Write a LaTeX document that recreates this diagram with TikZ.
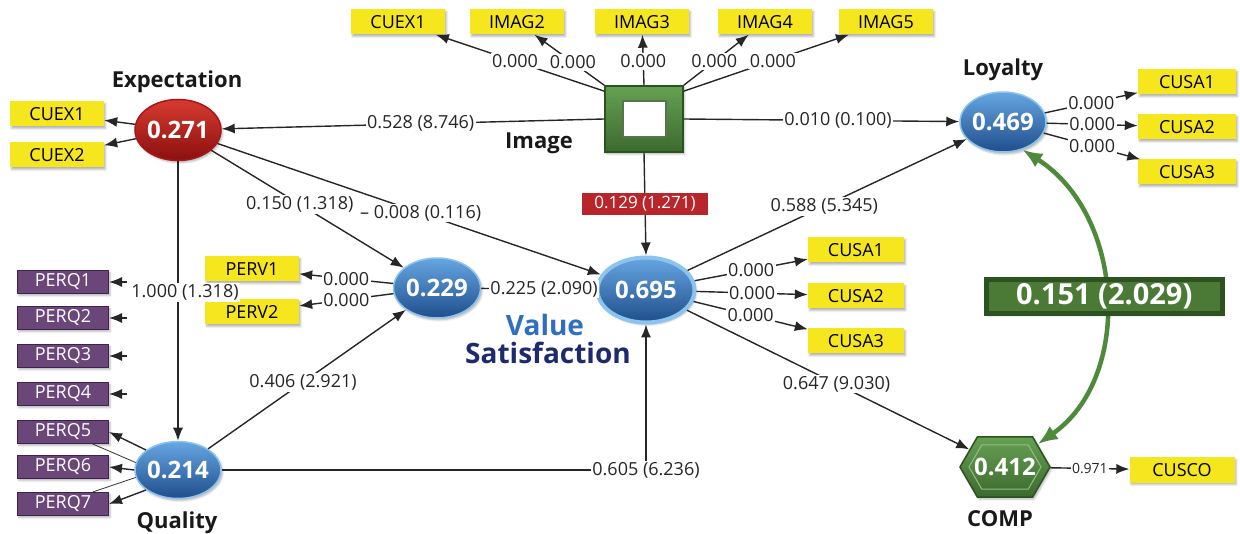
\documentclass[tikz,border=0pt]{standalone}
\usepackage{fontspec}
\setmainfont{Open Sans}
\usetikzlibrary{arrows.meta,shapes.geometric,shapes.symbols,shadows.blur}

\definecolor{ylw}{HTML}{F6E61E}
\definecolor{prp}{HTML}{6A4778}
\definecolor{prpdark}{HTML}{3D2450}
\definecolor{bTop}{HTML}{66A6E2}
\definecolor{bBot}{HTML}{1F4E8C}
\definecolor{bRim}{HTML}{8CC4F0}
\definecolor{rTop}{HTML}{D83A2F}
\definecolor{rBot}{HTML}{8A1010}
\definecolor{rRim}{HTML}{A51818}
\definecolor{gTop}{HTML}{66A052}
\definecolor{gBot}{HTML}{3C6A2F}
\definecolor{gDark}{HTML}{2C5222}
\definecolor{gArr}{HTML}{4F8A3C}
\definecolor{gLab}{HTML}{4B7A37}
\definecolor{redLab}{HTML}{B8252A}
\definecolor{valBlue}{HTML}{2F6FBF}
\definecolor{satNavy}{HTML}{1E2A6E}

\begin{document}
\begin{tikzpicture}[x=1pt,y=-1pt,
  shd/.style={blur shadow={shadow xshift=1.5pt,shadow yshift=-2pt,shadow blur radius=2pt,shadow opacity=30}},
  arr/.style={-{Latex[length=13pt,width=10pt]},line width=1.4pt,black!85},
  elab/.style={fill=white,inner sep=1.5pt,text=black!85,font=\fontsize{18}{20}\selectfont},
  selab/.style={elab,font=\fontsize{14}{16}\selectfont},
  ybox/.style={rectangle,fill=ylw,minimum width=94,minimum height=25,inner sep=0,
    font=\fontsize{18}{20}\selectfont,shd},
  pbox/.style={rectangle,fill=prp,draw=prpdark,line width=1pt,text=white,minimum width=91,
    minimum height=23,inner sep=0,font=\fontsize{18}{20}\selectfont,shd},
  ttl/.style={font=\bfseries\fontsize{22}{24}\selectfont,text=black!90},
  lv/.style={ellipse,inner sep=0,text=white,font=\bfseries\fontsize{24}{26}\selectfont,shd},
  lvblue/.style={lv,minimum width=86,minimum height=60,draw=bRim,line width=1.5pt,
    top color=bTop,bottom color=bBot},
  lvred/.style={lv,minimum width=86,minimum height=61,draw=rRim,line width=1.5pt,
    top color=rTop,bottom color=rBot},
  lvsat/.style={lv,minimum width=97,minimum height=65,draw=bRim,line width=4pt,
    top color=bTop,bottom color=bBot},
  redlab/.style={fill=redLab,text=white,minimum width=126,minimum height=22,inner sep=0,
    font=\fontsize{17}{19}\selectfont},
  glab/.style={fill=gLab,draw=gDark,text=white,minimum width=236,minimum height=34,inner sep=0,
    font=\bfseries\fontsize{29}{31}\selectfont,shd},
  garr/.style={{Latex[length=20pt,width=16pt]}-{Latex[length=20pt,width=16pt]},line width=4.5pt,gArr}
]
\useasboundingbox (0,0) rectangle (1240,534);

% ---- constructs ----
\node[lvred] (exp) at (178,130) {\makebox[0pt]{0.271}};
\node[ttl] (expT) at (177,82) {Expectation};

\node[rectangle,minimum width=78,minimum height=66,inner sep=0,draw=gDark,line width=1.5pt,
      top color=gTop,bottom color=gBot,shd] (img) at (644,119) {};
\node[rectangle,minimum width=43,minimum height=36,inner sep=0,fill=white,draw=gDark!80,
      line width=2pt] (imgin) at (644,119) {};
\node[ttl] (imgT) at (539,143) {Image};

\node[lvblue] (loy) at (1003,122) {\makebox[0pt]{0.469}};
\node[ttl] (loyT) at (1003,70) {Loyalty};

\node[lvsat] (sat) at (646,290) {\makebox[0pt]{0.695}};
\node[lvblue,minimum width=87] (val) at (437,288) {\makebox[0pt]{0.229}};
\node[font=\bfseries\fontsize{28}{30}\selectfont,text=valBlue] (valT) at (545,325) {Value};
\node[font=\bfseries\fontsize{28}{30}\selectfont,text=satNavy] (satT) at (548,353) {Satisfaction};

\node[lvblue,minimum height=57] (qual) at (178,470) {\makebox[0pt]{0.214}};
\node[ttl] (qualT) at (177,523) {Quality};

\node[signal,signal to=east and west,signal pointer angle=120,minimum width=90,minimum height=60,
      inner sep=0,draw=gDark,line width=1.5pt,top color=gTop,bottom color=gBot,shd] (comp) at (1005,467) {};
\node[signal,signal to=east and west,signal pointer angle=120,minimum width=72,minimum height=44,
      inner sep=0,draw=gTop!70!white,line width=1pt,text=white,
      font=\bfseries\fontsize{24}{26}\selectfont] (compin) at (1005,467) {\makebox[0pt]{0.412}};
\node[ttl] (compT) at (1000,519) {COMP};

% ---- indicators ----
\node[ybox] (cuexA) at (57,114) {CUEX1};
\node[ybox] (cuexB) at (57,155) {CUEX2};

\node[ybox] (t1) at (398,22) {CUEX1};
\node[ybox] (t2) at (517,22) {IMAG2};
\node[ybox] (t3) at (642,22) {IMAG3};
\node[ybox] (t4) at (765,22) {IMAG4};
\node[ybox] (t5) at (886,22) {IMAG5};

\node[ybox,minimum width=98] (la) at (1187,82) {CUSA1};
\node[ybox,minimum width=98] (lb) at (1187,127) {CUSA2};
\node[ybox,minimum width=98] (lc) at (1187,172) {CUSA3};

\node[ybox,minimum width=96] (sa) at (856,250) {CUSA1};
\node[ybox,minimum width=96] (sb) at (856,296) {CUSA2};
\node[ybox,minimum width=96] (sc) at (856,341) {CUSA3};

\node[ybox] (pa) at (252,269) {PERV1};
\node[ybox] (pb) at (252,312) {PERV2};

\node[pbox] (q1) at (63,282) {PERQ1};
\node[pbox] (q2) at (63,318) {PERQ2};
\node[pbox] (q3) at (63,356) {PERQ3};
\node[pbox] (q4) at (63,394) {PERQ4};
\node[pbox] (q5) at (63,432) {PERQ5};
\node[pbox] (q6) at (63,467) {PERQ6};
\node[pbox] (q7) at (63,504) {PERQ7};

\node[ybox,minimum width=105] (cusco) at (1182,470) {CUSCO};

% ---- loadings ----
\draw[arr] (exp) -- (cuexA);
\draw[arr] (exp) -- (cuexB);

\draw[arr] (img.145) -- (t1) node[elab,pos=0.53] {0.000};
\draw[arr] (img.north west) -- (t2) node[elab,pos=0.45] {0.000};
\draw[arr] (img.north) -- (t3) node[elab,pos=0.47] {0.000};
\draw[arr] (img.north east) -- (t4) node[elab,pos=0.47] {0.000};
\draw[arr] (img.35) -- (t5) node[elab,pos=0.54] {0.000};

\draw[arr] (loy) -- (la) node[elab,pos=0.5] {0.000};
\draw[arr] (loy) -- (lb) node[elab,pos=0.5] {0.000};
\draw[arr] (loy) -- (lc) node[elab,pos=0.5] {0.000};

\draw[arr] (sat) -- (sa) node[elab,pos=0.5] {0.000};
\draw[arr] (sat) -- (sb) node[elab,pos=0.5] {0.000};
\draw[arr] (sat) -- (sc) node[elab,pos=0.5] {0.000};

\draw[arr] (val) -- (pa) node[elab,pos=0.5] {0.000};
\draw[arr] (val) -- (pb) node[elab,pos=0.5] {0.000};

\coordinate (s1) at (127,282);
\coordinate (s2) at (127,318);
\coordinate (s3) at (127,356);
\coordinate (s4) at (127,394);
\draw[arr] (s1) -- (q1);
\draw[arr] (s2) -- (q2);
\draw[arr] (s3) -- (q3);
\draw[arr] (s4) -- (q4);
\draw[arr] (qual.148) -- (q5.east);
\draw[arr] (qual.west) -- (q6.east);
\draw[arr] (qual.212) -- (q7.east);
\draw[line width=0.8pt,black!80] (q5.-22) -- (qual.170);
\draw[line width=0.8pt,black!80] (q7.22) -- (qual.190);

\draw[arr] (comp) -- (cusco) node[selab,pos=0.5] {0.971};

% ---- structural paths ----
\draw[arr] (img.west) -- (exp) node[elab,pos=0.48] {0.528 (8.746)};
\draw[arr] (img.east) -- (loy) node[elab,pos=0.56] {0.010 (0.100)};
\draw[arr] (img.south) -- (sat.north) node[redlab,pos=0.5] {0.129 (1.271)};
\draw[arr] (exp) -- (val) node[elab,pos=0.46] {0.150 (1.318)};
\draw[arr] (exp) -- (sat) node[elab,pos=0.53] {– 0.008 (0.116)};
\draw[arr] (exp) -- (qual) node[elab,pos=0.47,xshift=7pt] {1.000 (1.318)};
\draw[arr] (qual) -- (val) node[elab,pos=0.48] {0.406 (2.921)};
\draw[arr] (val) -- (sat) node[elab,pos=0.55] {0.225 (2.090)};
\draw[arr] (qual) -| (sat) node[elab,pos=0.5] {0.605 (6.236)};
\draw[arr] (sat) -- (loy) node[elab,pos=0.49] {0.588 (5.345)};
\draw[arr] (sat) -- (comp) node[elab,pos=0.53] {0.647 (9.030)};

\draw[garr] (loy.-55) .. controls (1125,215) and (1133,378) .. (comp.35)
  node[glab,pos=0.5] {0.151 (2.029)};
\end{tikzpicture}
\end{document}
